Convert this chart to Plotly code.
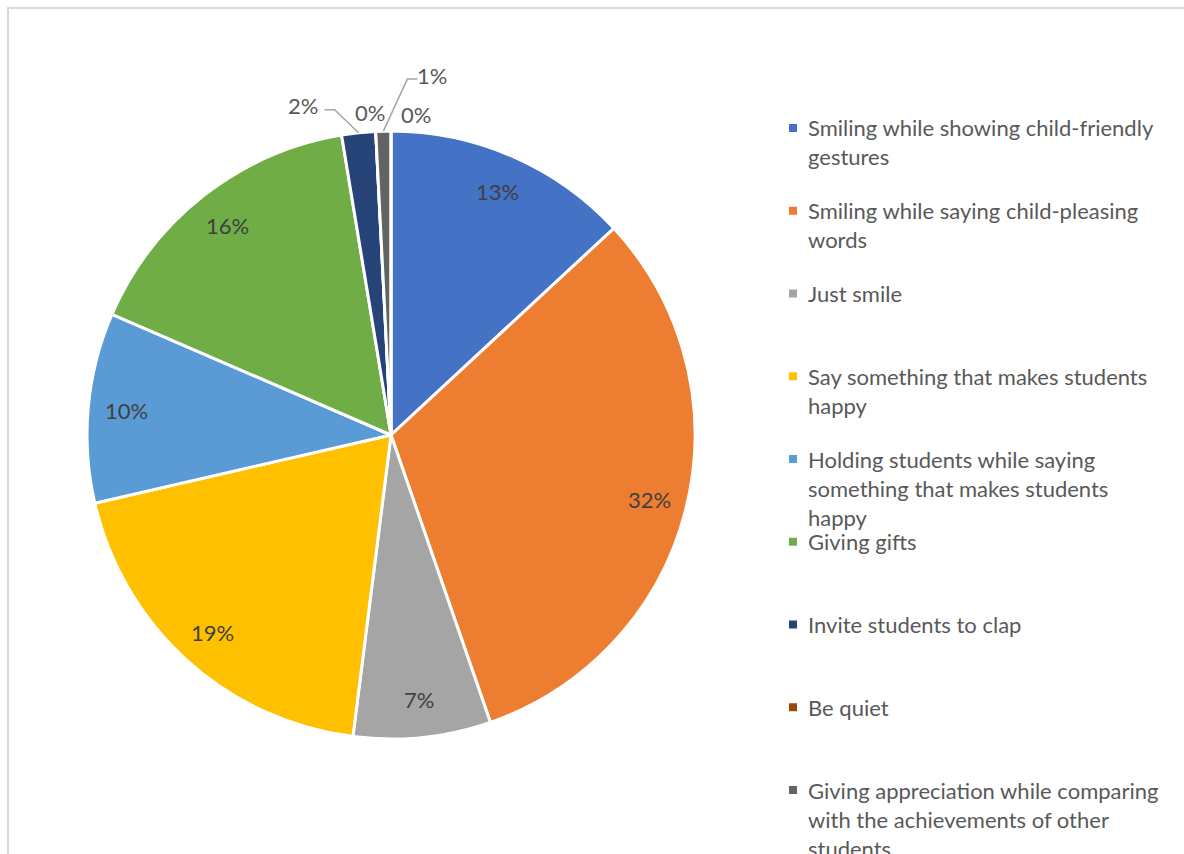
import math
import plotly.graph_objects as go

# ---------------- data ----------------
categories = [
    "Smiling while showing child-friendly gestures",
    "Smiling while saying child-pleasing words",
    "Just smile",
    "Say something that makes students happy",
    "Holding students while saying something that makes students happy",
    "Giving gifts",
    "Invite students to clap",
    "Be quiet",
    "Giving appreciation while comparing with the achievements of other students",
    "",
]
values = [13.1, 31.6, 7.3, 19.4, 10.1, 15.9, 1.8, 0.0, 0.8, 0.0]
colors = ["#4472C4", "#ED7D31", "#A5A5A5", "#FFC000", "#5B9BD5",
          "#70AD47", "#264478", "#9E480E", "#636363", "#997300"]
legend_lines = [
    ["Smiling while showing child-friendly", "gestures"],
    ["Smiling while saying child-pleasing", "words"],
    ["Just smile"],
    ["Say something that makes students", "happy"],
    ["Holding students while saying", "something that makes students", "happy"],
    ["Giving gifts"],
    ["Invite students to clap"],
    ["Be quiet"],
    ["Giving appreciation while comparing", "with the achievements of other", "students"],
]

# ---------------- layout helpers ----------------
W, H = 1184, 854
CX, CY, R = 391, 435, 304
FONT = "Lato, Carlito, Calibri, sans-serif"
FS = 22


def px(x):
    return x / W


def py(y):
    return 1 - y / H


fig = go.Figure()
fig.add_trace(go.Pie(
    labels=categories,
    values=values,
    sort=False,
    direction="clockwise",
    rotation=0,
    textinfo="none",
    showlegend=False,
    marker=dict(colors=colors, line=dict(color="white", width=3)),
    domain=dict(x=[px(CX - R), px(CX + R)], y=[py(CY + R), py(CY - R)]),
    hoverinfo="label+percent",
))

annotations = []
shapes = []

# frame
shapes.append(dict(type="rect", xref="paper", yref="paper",
                   x0=px(8), x1=px(W + 10), y0=py(H + 10), y1=py(8),
                   line=dict(color="#d9d9d9", width=2), fillcolor="rgba(0,0,0,0)"))

# data labels
outside = {
    6: dict(text=(-56, -27), leader=[(-24, -23), (-34, -23)]),
    7: dict(text=(-6, -19), leader=None),
    8: dict(text=(49, -56), leader=[(24, -52), (34, -52)]),
    9: dict(text=(25, -17), leader=None),
}
total = sum(values)
cum = 0.0
for i, v in enumerate(values):
    mid = (cum + v / 2) / total
    cum += v
    ang = mid * 2 * math.pi
    pct = f"{round(v / total * 100):.0f}%"
    if i in outside:
        ax = CX + R * math.sin(ang)
        ay = CY - R * math.cos(ang)
        o = outside[i]
        tx, ty = ax + o["text"][0], ay + o["text"][1]
        annotations.append(dict(x=px(tx), y=py(ty), xref="paper", yref="paper",
                                xanchor="center", yanchor="middle",
                                text=pct, showarrow=False,
                                font=dict(family=FONT, size=FS, color="#595959")))
        if o["leader"]:
            pts = [(ax, ay)] + [(ax + dx, ay + dy) for dx, dy in o["leader"]]
            path = "M " + " L ".join(f"{px(x)},{py(y)}" for x, y in pts)
            shapes.append(dict(type="path", xref="paper", yref="paper", path=path,
                               line=dict(color="#a6a6a6", width=1.5)))
    else:
        k = 0.875
        tx = CX + R * k * math.sin(ang)
        ty = CY - R * k * math.cos(ang)
        annotations.append(dict(x=px(tx), y=py(ty), xref="paper", yref="paper",
                                xanchor="center", yanchor="middle",
                                text=pct, showarrow=False,
                                font=dict(family=FONT, size=FS, color="#404040")))

# manual legend
LEG_X, LEG_Y0, LEG_STEP, LINE_H = 806, 128, 82.75, 29
for i, lines in enumerate(legend_lines):
    y0 = LEG_Y0 + i * LEG_STEP
    shapes.append(dict(type="rect", xref="paper", yref="paper",
                       x0=px(789), x1=px(797), y0=py(y0 + 4), y1=py(y0 - 4),
                       fillcolor=colors[i], line=dict(width=0)))
    for j, line in enumerate(lines):
        annotations.append(dict(x=px(LEG_X), y=py(y0 + j * LINE_H), xref="paper", yref="paper",
                                xanchor="left", yanchor="middle", text=line, showarrow=False,
                                font=dict(family=FONT, size=FS, color="#595959")))

fig.update_layout(
    width=W, height=H,
    margin=dict(l=0, r=0, t=0, b=0),
    paper_bgcolor="white",
    plot_bgcolor="white",
    annotations=annotations,
    shapes=shapes,
    showlegend=False,
)

fig.write_html("out.html")
